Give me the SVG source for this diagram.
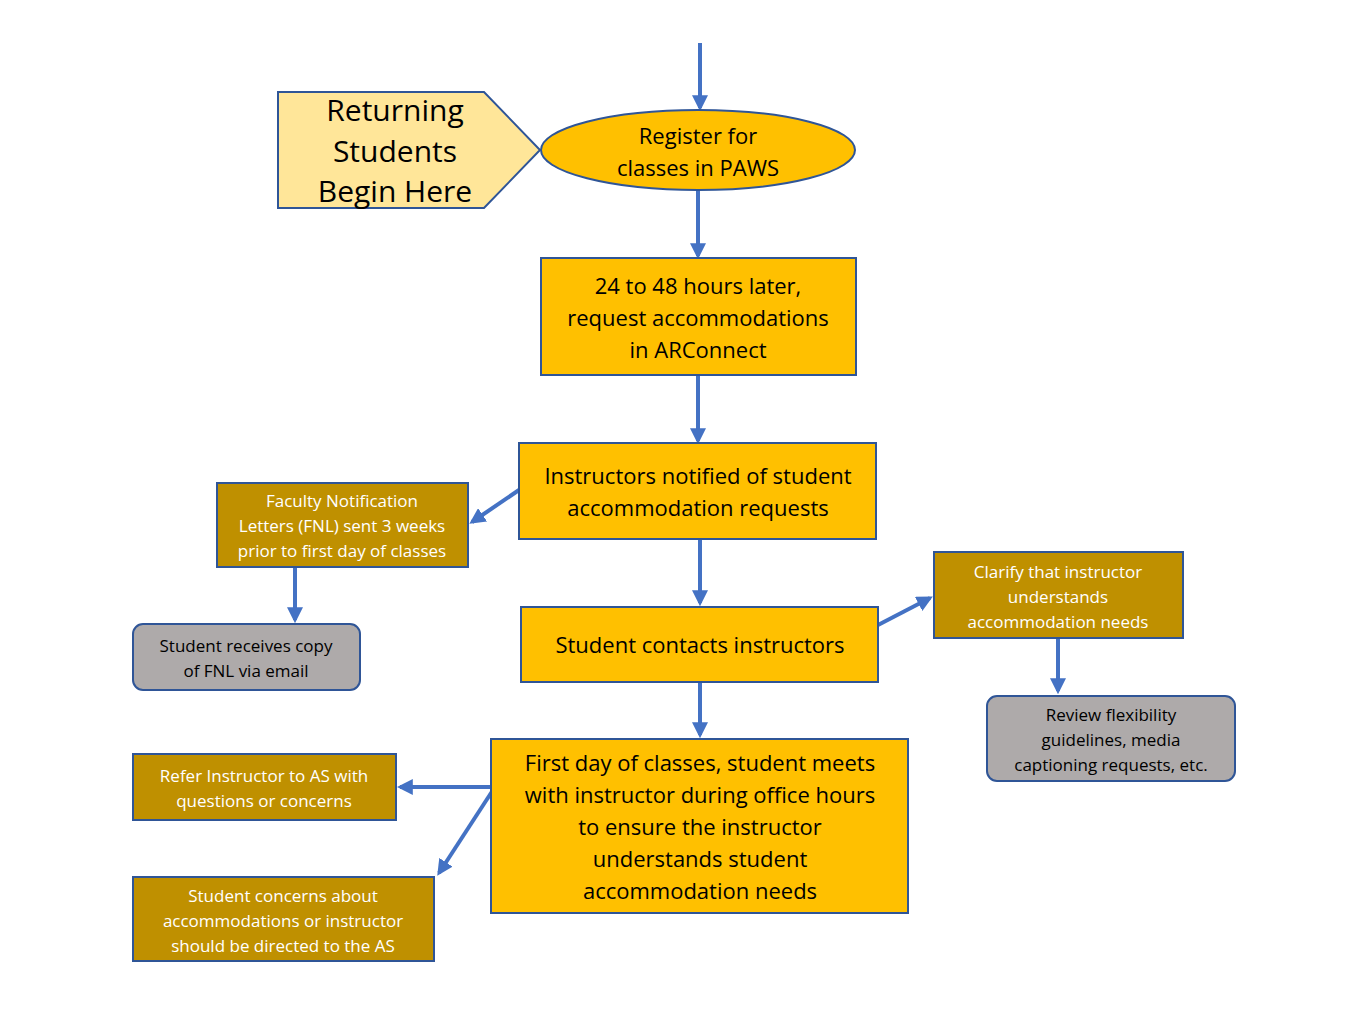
<svg xmlns="http://www.w3.org/2000/svg" width="1366" height="1025" viewBox="0 0 1366 1025">
<defs>
<style>
text{font-family:"Open Sans","Noto Sans",sans-serif;text-anchor:middle}
.o{fill:#FFC000;stroke:#2F5597;stroke-width:2}
.g{fill:#BF9000;stroke:#2F5597;stroke-width:2}
.gr{fill:#AEAAAA;stroke:#2F5597;stroke-width:2}
.big{font-size:22px;fill:#000}
.sm{font-size:17px;fill:#fff}
.smd{font-size:17px;fill:#000}
.c{stroke:#4472C4;stroke-width:4;fill:none;marker-end:url(#a)}
</style>
<marker id="a" viewBox="0 0 10 10" refX="8" refY="5" markerWidth="4" markerHeight="4" orient="auto" markerUnits="strokeWidth"><path d="M0,0L10,5L0,10z" fill="#4472C4"/></marker>
</defs>
<rect width="1366" height="1025" fill="#fff"/>
<g id="connectors">
<path class="c" d="M700,43V108"/>
<path class="c" d="M698,190V256"/>
<path class="c" d="M698,375V441"/>
<path class="c" d="M519,490L472,522"/>
<path class="c" d="M295,567V620"/>
<path class="c" d="M700,539V603"/>
<path class="c" d="M878,625L930,598"/>
<path class="c" d="M1058,638V691"/>
<path class="c" d="M700,682V735"/>
<path class="c" d="M493,787H400"/>
<path class="c" d="M493,790L439,873"/>
</g>
<g id="returning"><path d="M278,92H484L540,150L484,208H278Z" fill="#FFE699" stroke="#2F5597" stroke-width="2"/>
<text x="395" y="121" font-size="30">Returning</text><text x="395" y="162" font-size="30">Students</text><text x="395" y="202" font-size="30">Begin Here</text></g>
<g id="register"><ellipse cx="698" cy="150" rx="157" ry="40" class="o"/>
<text class="big" x="698" y="144">Register for</text><text class="big" x="698" y="176">classes in PAWS</text></g>
<g id="request"><rect x="541" y="258" width="315" height="117" class="o"/>
<text class="big" x="698" y="294">24 to 48 hours later,</text><text class="big" x="698" y="326">request accommodations</text><text class="big" x="698" y="358">in ARConnect</text></g>
<g id="notified"><rect x="519" y="443" width="357" height="96" class="o"/>
<text class="big" x="698" y="484">Instructors notified of student</text><text class="big" x="698" y="516">accommodation requests</text></g>
<g id="fnl"><rect x="217" y="483" width="251" height="84" class="g"/>
<text class="sm" x="342" y="507">Faculty Notification</text><text class="sm" x="342" y="532">Letters (FNL) sent 3 weeks</text><text class="sm" x="342" y="557">prior to first day of classes</text></g>
<g id="copy"><rect x="133" y="624" width="227" height="66" rx="10" class="gr"/>
<text class="smd" x="246" y="652">Student receives copy</text><text class="smd" x="246" y="677">of FNL via email</text></g>
<g id="contacts"><rect x="521" y="607" width="357" height="75" class="o"/>
<text class="big" x="700" y="653">Student contacts instructors</text></g>
<g id="clarify"><rect x="934" y="552" width="249" height="86" class="g"/>
<text class="sm" x="1058" y="578">Clarify that instructor</text><text class="sm" x="1058" y="603">understands</text><text class="sm" x="1058" y="628">accommodation needs</text></g>
<g id="review"><rect x="987" y="696" width="248" height="85" rx="10" class="gr"/>
<text class="smd" x="1111" y="721">Review flexibility</text><text class="smd" x="1111" y="746">guidelines, media</text><text class="smd" x="1111" y="771">captioning requests, etc.</text></g>
<g id="firstday"><rect x="491" y="739" width="417" height="174" class="o"/>
<text class="big" x="700" y="771">First day of classes, student meets</text><text class="big" x="700" y="803">with instructor during office hours</text><text class="big" x="700" y="835">to ensure the instructor</text><text class="big" x="700" y="867">understands student</text><text class="big" x="700" y="899">accommodation needs</text></g>
<g id="refer"><rect x="133" y="754" width="263" height="66" class="g"/>
<text class="sm" x="264" y="782">Refer Instructor to AS with</text><text class="sm" x="264" y="807">questions or concerns</text></g>
<g id="concerns"><rect x="133" y="877" width="301" height="84" class="g"/>
<text class="sm" x="283" y="902">Student concerns about</text><text class="sm" x="283" y="927">accommodations or instructor</text><text class="sm" x="283" y="952">should be directed to the AS</text></g>
</svg>
